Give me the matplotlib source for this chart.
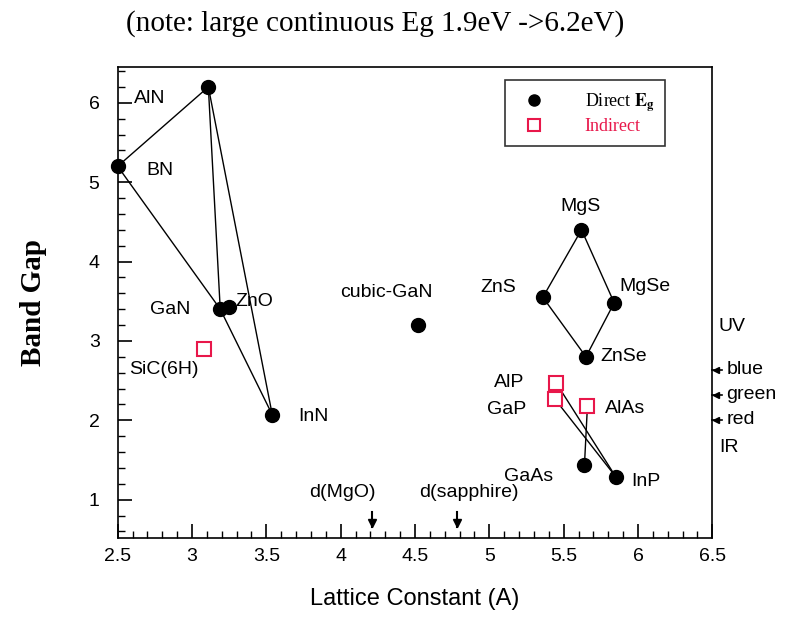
import matplotlib
matplotlib.use("Agg")
import matplotlib.pyplot as plt
from matplotlib.ticker import MultipleLocator

plt.rcParams["mathtext.fontset"] = "stix"

# Direct band-gap semiconductors: lattice constant (A), band gap (eV)
direct_names = ["AlN", "BN", "GaN", "ZnO", "InN", "cubic-GaN",
                "MgS", "ZnS", "MgSe", "ZnSe", "GaAs", "InP"]
direct_a = [3.11, 2.50, 3.19, 3.25, 3.54, 4.52, 5.62, 5.36, 5.84, 5.65, 5.64, 5.85]
direct_eg = [6.20, 5.20, 3.40, 3.43, 2.07, 3.20, 4.40, 3.55, 3.48, 2.80, 1.44, 1.29]

# Indirect band-gap semiconductors
indirect_names = ["SiC(6H)", "AlP", "GaP", "AlAs"]
indirect_a = [3.08, 5.45, 5.44, 5.66]
indirect_eg = [2.90, 2.47, 2.27, 2.18]

# Alloy tie lines between compounds
tie_lines = [("AlN", "BN"), ("BN", "GaN"), ("AlN", "GaN"), ("AlN", "InN"),
             ("GaN", "InN"), ("MgS", "ZnS"), ("ZnS", "ZnSe"), ("ZnSe", "MgSe"),
             ("MgSe", "MgS"), ("AlP", "InP"), ("GaP", "InP"), ("AlAs", "GaAs")]

# Substrate lattice constants
substrate_names = ["d(MgO)", "d(sapphire)"]
substrate_a = [4.21, 4.78]

# Visible spectrum references
spectrum_names = ["UV", "blue", "green", "red", "IR"]
spectrum_eg = [3.18, 2.64, 2.32, 2.01, 1.66]
spectrum_marked = [False, True, True, True, False]

x_ticks = [2.5, 3, 3.5, 4, 4.5, 5, 5.5, 6, 6.5]
x_tick_labels = ["2.5", "3", "3.5", "4", "4.5", "5", "5.5", "6", "6.5"]
y_ticks = [1, 2, 3, 4, 5, 6]

sans = ["Liberation Sans", "DejaVu Sans"]
serif = ["Liberation Serif", "DejaVu Serif"]
red = "#e8174a"

fig = plt.figure(figsize=(7.95, 6.21), dpi=100)
ax = fig.add_axes([0.148, 0.134, 0.748, 0.758])

pos = {n: (a, e) for n, a, e in zip(direct_names, direct_a, direct_eg)}
pos.update({n: (a, e) for n, a, e in zip(indirect_names, indirect_a, indirect_eg)})

for p, q in tie_lines:
    ax.plot([pos[p][0], pos[q][0]], [pos[p][1], pos[q][1]],
            color="black", lw=1.0, zorder=2)

direct_h, = ax.plot(direct_a, direct_eg, "o", color="black", ms=10, zorder=4,
                    clip_on=False)
indirect_h, = ax.plot(indirect_a, indirect_eg, "s", mfc="white", mec=red,
                      mew=1.5, ms=10, zorder=5, clip_on=False)

# Compound labels (offsets in pixels, left edge of text)
label_offsets = {
    "AlN": (-74, -12), "BN": (29, -4), "GaN": (-70, 0), "ZnO": (6, 5),
    "InN": (26, -2), "cubic-GaN": (-78, 33), "MgS": (-21, 23),
    "ZnS": (-62, 10), "MgSe": (5, 16), "ZnSe": (14, 0), "GaAs": (-80, -12),
    "InP": (16, -5), "SiC(6H)": (-75, -21), "AlP": (-62, 0),
    "GaP": (-68, -11), "AlAs": (18, -2),
}
for n, (a, e) in pos.items():
    dx, dy = label_offsets[n]
    ax.annotate(n, (a, e), xytext=(dx, dy), textcoords="offset pixels",
                fontsize=14, family=sans, va="center", ha="left", zorder=6)

# Substrate markers along the bottom axis
substrate_label_dx = [-30, 12]
for n, a, ldx in zip(substrate_names, substrate_a, substrate_label_dx):
    ax.plot([a, a], [0.65, 0.84], color="black", lw=1.5, zorder=3)
    ax.plot(a, 0.71, "v", color="black", ms=6, zorder=3)
    ax.annotate(n, (a, 1.09), xytext=(ldx, 0), textcoords="offset pixels",
                fontsize=14, family=sans, ha="center", va="center")

# Spectrum markers on the right side
trans = ax.get_yaxis_transform()
for n, e, m in zip(spectrum_names, spectrum_eg, spectrum_marked):
    if m:
        ax.plot([1.0, 1.016], [e, e], color="black", lw=1.2, transform=trans,
                clip_on=False)
        ax.plot(1.006, e, "<", color="black", ms=5, transform=trans, clip_on=False)
    ax.text(1.024 if m else 1.011, e, n, transform=trans, fontsize=14,
            family=sans, va="center", ha="left")

ax.set_xlim(2.5, 6.5)
ax.set_ylim(0.52, 6.45)
ax.set_xticks(x_ticks)
ax.set_xticklabels(x_tick_labels, family=sans, fontsize=14)
ax.set_yticks(y_ticks)
ax.set_yticklabels([str(t) for t in y_ticks], family=sans, fontsize=14)
ax.xaxis.set_minor_locator(MultipleLocator(0.1))
ax.yaxis.set_minor_locator(MultipleLocator(0.2))
ax.tick_params(which="major", direction="in", length=10, width=1.2)
ax.tick_params(which="minor", direction="in", length=5, width=1.0)
ax.tick_params(axis="x", which="major", pad=7)
ax.tick_params(axis="y", which="major", pad=13)
for s in ax.spines.values():
    s.set_linewidth(1.2)

ax.set_xlabel("Lattice Constant (A)", family=sans, fontsize=17, labelpad=17)
ax.set_ylabel("Band Gap", family=serif, fontsize=21, fontweight="bold", labelpad=30)
fig.text(0.472, 0.962, "(note: large continuous Eg 1.9eV ->6.2eV)",
         family=serif, fontsize=21, ha="center", va="center")

# Legend
leg = ax.legend(handles=[direct_h, indirect_h],
                labels=["Direct $\\mathbf{E_g}$", "Indirect"],
                loc="upper right", bbox_to_anchor=(0.921, 0.972),
                borderaxespad=0.0,
                prop={"family": serif, "size": 13}, frameon=True,
                fancybox=False, edgecolor="black", borderpad=0.6,
                handletextpad=1.8, markerscale=0.8, labelspacing=0.25)
leg.get_frame().set_linewidth(1.2)
leg.get_texts()[1].set_color(red)

fig.savefig("out.png", dpi=100)
